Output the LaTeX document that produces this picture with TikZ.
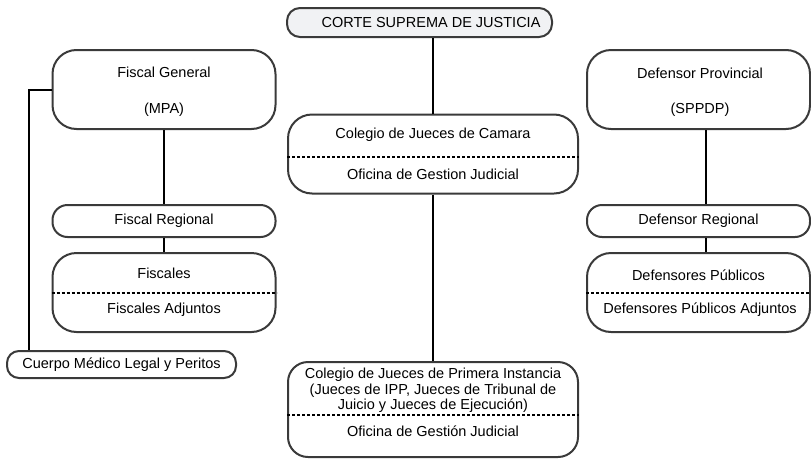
\documentclass[tikz,border=0pt]{standalone}
\usepackage{fontspec}
\setmainfont{Liberation Sans}
\usetikzlibrary{positioning}
\definecolor{borde}{HTML}{3A3A3A}
\definecolor{fondo}{HTML}{F1F2F4}

\begin{document}
\begin{tikzpicture}[x=1pt, y=-1pt,
    caja/.style={draw=borde, line width=2pt, rounded corners=24pt, inner sep=0pt},
    pill/.style={caja, rounded corners=15pt},
    txt/.style={font=\fontsize{14.5}{15.5}\selectfont, inner sep=0pt},
    enlace/.style={line width=2pt, black},
    sep/.style={line width=2pt, black, dash pattern=on 3pt off 2pt}]
\useasboundingbox (0,0) rectangle (811,469);

% columna central
\node[pill, rounded corners=13pt, fill=fondo, minimum width=265pt, minimum height=29pt] (corte) at (419.5,22.5) {};
\node[txt] (corteT) at (431,22.5) {CORTE SUPREMA DE JUSTICIA};

\node[caja, minimum width=290pt, minimum height=79pt] (camara) at (433,154) {};
\node[txt] (camaraA) at (433,135) {Colegio de Jueces de Camara};
\node[txt] (camaraB) at (433,174) {Oficina de Gestion Judicial};
\draw[sep] (camara.west |- 0,157) -- (camara.east |- 0,157);

\node[caja, rounded corners=20pt, minimum width=290pt, minimum height=95pt] (primera) at (433,409.5) {};
\node[txt, align=center] (primeraA) at (433,390.5) {Colegio de Jueces de Primera Instancia\\(Jueces de IPP, Jueces de Tribunal de\\Juicio y Jueces de Ejecución)};
\node[txt] (primeraB) at (433,431) {Oficina de Gestión Judicial};
\draw[sep] (primera.west |- 0,415) -- (primera.east |- 0,415);

% fiscalia
\node[caja, minimum width=223pt, minimum height=79pt] (fgen) at (164,89.5) {};
\node[txt] (fgenA) at (164,72) {Fiscal General};
\node[txt] (fgenB) at (164,110) {(MPA)};

\node[pill, minimum width=223pt, minimum height=32pt] (freg) at (164,221) {};
\node[txt] (fregT) at (164,221) {Fiscal Regional};

\node[caja, minimum width=223pt, minimum height=79pt] (fisc) at (164,292.5) {};
\node[txt] (fiscA) at (164,273) {Fiscales};
\node[txt] (fiscB) at (164,310) {Fiscales Adjuntos};
\draw[sep] (fisc.west |- 0,293) -- (fisc.east |- 0,293);

\node[pill, rounded corners=12pt, minimum width=229pt, minimum height=27pt] (cuerpo) at (121.5,364.5) {};
\node[txt] (cuerpoT) at (121.5,364.5) {Cuerpo Médico Legal y Peritos};

% defensa
\node[caja, minimum width=223pt, minimum height=79pt] (dprov) at (698.5,89.5) {};
\node[txt] (dprovA) at (700,73) {Defensor Provincial};
\node[txt] (dprovB) at (700,110) {(SPPDP)};

\node[pill, minimum width=223pt, minimum height=32pt] (dreg) at (698.5,221) {};
\node[txt] (dregT) at (698.5,221) {Defensor Regional};

\node[caja, minimum width=223pt, minimum height=79pt] (dpub) at (698.5,292.5) {};
\node[txt] (dpubA) at (698.5,275) {Defensores Públicos};
\node[txt] (dpubB) at (700,310) {Defensores Públicos Adjuntos};
\draw[sep] (dpub.west |- 0,293) -- (dpub.east |- 0,293);

% enlaces
\draw[enlace] (camara.north) -- (camara.north |- corte.south);
\draw[enlace] (camara.south) -- (primera.north);
\draw[enlace] (fgen.south) -- (freg.north);
\draw[enlace] (freg.south) -- (fisc.north);
\draw[enlace] ([xshift=7.5pt]dprov.south) -- ([xshift=7.5pt]dreg.north);
\draw[enlace] ([xshift=7.5pt]dreg.south) -- ([xshift=7.5pt]dpub.north);
\draw[enlace] (fgen.west) -| (cuerpo.north -| 29,0);
\end{tikzpicture}
\end{document}
